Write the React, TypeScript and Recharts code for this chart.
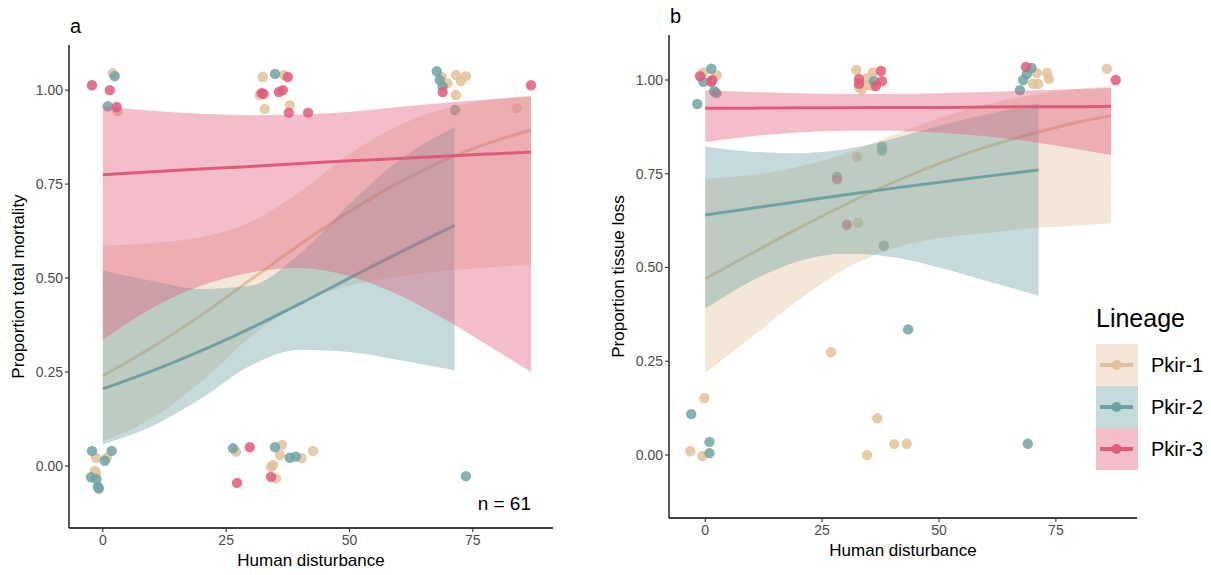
import React from "react";
import { ComposedChart, Scatter, Area, Line, XAxis, YAxis, Legend } from "recharts";

const FONT = "'Liberation Sans', Arial, sans-serif";

const LINEAGES = ["Pkir-1", "Pkir-2", "Pkir-3"];
const COLORS = ["#E3C29A", "#6FA3A3", "#E05A7A"];
const BAND_ALPHA = 0.4;

const X_TICKS = [0, 25, 50, 75];
const Y_TICKS = [0, 0.25, 0.5, 0.75, 1];

// ---- panel a : total mortality ----
const A_X_LONG = [0, 10, 20, 30, 40, 50, 60, 70, 80, 86.8];
const A_X_SHORT = [0, 10, 20, 30, 40, 50, 60, 71.3];

const A_FIT_1 = [0.24, 0.316, 0.402, 0.496, 0.59, 0.677, 0.754, 0.818, 0.867, 0.894];
const A_LO_1 = [0.066, 0.127, 0.225, 0.344, 0.433, 0.48, 0.505, 0.52, 0.53, 0.535];
const A_HI_1 = [0.586, 0.593, 0.609, 0.649, 0.73, 0.83, 0.906, 0.953, 0.977, 0.986];

const A_FIT_2 = [0.205, 0.253, 0.307, 0.367, 0.432, 0.5, 0.567, 0.64];
const A_LO_2 = [0.058, 0.106, 0.18, 0.267, 0.309, 0.303, 0.282, 0.255];
const A_HI_2 = [0.52, 0.492, 0.471, 0.48, 0.565, 0.697, 0.813, 0.902];

const A_FIT_3 = [0.775, 0.783, 0.79, 0.797, 0.805, 0.812, 0.818, 0.825, 0.831, 0.835];
const A_LO_3 = [0.335, 0.42, 0.48, 0.515, 0.527, 0.505, 0.455, 0.385, 0.305, 0.25];
const A_HI_3 = [0.957, 0.945, 0.937, 0.933, 0.935, 0.942, 0.955, 0.967, 0.977, 0.983];

const A_PTS_1 = [
  [2.0, 1.045], [3.0, 0.944],
  [32.4, 1.035], [36.7, 1.04], [31.8, 0.987], [32.8, 0.95], [37.9, 0.96],
  [68.7, 1.035], [69.9, 1.018], [71.6, 1.04], [73.6, 1.037], [72.6, 1.024], [71.6, 0.987], [83.9, 0.952],
  [-1.4, 0.022], [0.8, 0.022], [-1.6, -0.013], [-1.4, -0.02],
  [27.0, 0.038], [36.3, 0.056], [35.9, 0.029], [40.3, 0.021], [42.6, 0.04], [34.1, -0.002], [34.5, 0.003], [35.1, -0.033],
];
const A_PTS_2 = [
  [2.4, 1.037], [1.0, 0.957],
  [34.9, 1.043],
  [67.7, 1.05], [68.3, 1.027], [68.9, 1.01], [71.4, 0.947],
  [-2.2, 0.04], [0.4, 0.014], [1.8, 0.04], [-2.4, -0.03], [-1.3, -0.035], [-1.0, -0.055], [-0.8, -0.06],
  [26.4, 0.047], [34.9, 0.05], [37.9, 0.022], [39.1, 0.025],
  [73.6, -0.027],
];
const A_PTS_3 = [
  [-2.2, 1.013], [1.4, 1.0], [2.8, 0.955],
  [37.5, 1.035], [32.2, 0.992], [32.6, 0.99], [35.7, 0.995], [36.5, 1.0], [37.7, 0.94], [41.6, 0.94],
  [68.9, 0.995], [86.8, 1.013],
  [29.8, 0.05], [27.2, -0.045], [34.1, -0.029],
];

// ---- panel b : tissue loss ----
const B_X_LONG = [0, 10, 20, 30, 40, 50, 60, 70, 80, 86.8];
const B_X_SHORT = [0, 10, 20, 30, 40, 50, 60, 71.3];

const B_FIT_1 = [0.47, 0.538, 0.605, 0.668, 0.726, 0.777, 0.821, 0.857, 0.888, 0.905];
const B_LO_1 = [0.219, 0.315, 0.414, 0.497, 0.55, 0.578, 0.592, 0.605, 0.612, 0.618];
const B_HI_1 = [0.737, 0.747, 0.769, 0.804, 0.852, 0.898, 0.935, 0.96, 0.977, 0.984];

const B_FIT_2 = [0.64, 0.658, 0.676, 0.694, 0.711, 0.727, 0.743, 0.76];
const B_LO_2 = [0.39, 0.465, 0.517, 0.537, 0.528, 0.5, 0.465, 0.425];
const B_HI_2 = [0.822, 0.809, 0.805, 0.816, 0.843, 0.878, 0.908, 0.938];

const B_FIT_3 = [0.925, 0.925, 0.926, 0.926, 0.927, 0.927, 0.928, 0.929, 0.929, 0.93];
const B_LO_3 = [0.835, 0.85, 0.86, 0.865, 0.865, 0.86, 0.85, 0.835, 0.815, 0.8];
const B_HI_3 = [0.972, 0.968, 0.965, 0.963, 0.963, 0.965, 0.968, 0.972, 0.976, 0.979];

const B_PTS_1 = [
  [-0.4, 1.02], [2.5, 1.013],
  [32.3, 1.027], [32.9, 0.98], [34.6, 1.005], [35.9, 1.02], [35.7, 0.984], [34.6, 0.987], [33.5, 0.975],
  [70.9, 1.019], [73.1, 1.019], [73.5, 1.003], [70.1, 0.99], [71.2, 0.99], [85.9, 1.03],
  [32.5, 0.795], [32.7, 0.62],
  [26.9, 0.274], [-0.2, 0.152], [-3.2, 0.01], [-0.6, -0.003], [36.8, 0.098], [40.4, 0.029], [43.1, 0.03], [34.6, 0.0],
];
const B_PTS_2 = [
  [1.3, 1.03], [-0.4, 0.995], [1.9, 0.97], [2.4, 0.965], [-1.7, 0.936],
  [36.1, 0.997],
  [69.8, 1.032], [68.8, 1.016], [68.0, 1.0], [67.3, 0.973],
  [28.2, 0.742], [37.8, 0.822], [37.8, 0.812], [38.2, 0.558], [43.4, 0.335],
  [-3.0, 0.109], [0.9, 0.035], [0.9, 0.005], [69.0, 0.03],
];
const B_PTS_3 = [
  [-1.1, 1.01], [1.5, 1.0], [1.3, 0.995],
  [32.9, 1.003], [32.9, 0.99], [37.6, 1.024], [37.8, 0.997], [36.5, 0.984],
  [68.6, 1.035], [87.8, 1.0],
  [28.2, 0.735], [30.3, 0.614],
];

const fitRows = (xs: number[], fit: number[], lo: number[], hi: number[]) =>
  xs.map((x, i) => ({ x, fit: fit[i], band: [lo[i], hi[i]] }));
const pointRows = (pts: number[][]) => pts.map(([x, y]) => ({ x, y }));

const PANEL_A = {
  fits: [
    fitRows(A_X_LONG, A_FIT_1, A_LO_1, A_HI_1),
    fitRows(A_X_SHORT, A_FIT_2, A_LO_2, A_HI_2),
    fitRows(A_X_LONG, A_FIT_3, A_LO_3, A_HI_3),
  ],
  points: [pointRows(A_PTS_1), pointRows(A_PTS_2), pointRows(A_PTS_3)],
};
const PANEL_B = {
  fits: [
    fitRows(B_X_LONG, B_FIT_1, B_LO_1, B_HI_1),
    fitRows(B_X_SHORT, B_FIT_2, B_LO_2, B_HI_2),
    fitRows(B_X_LONG, B_FIT_3, B_LO_3, B_HI_3),
  ],
  points: [pointRows(B_PTS_1), pointRows(B_PTS_2), pointRows(B_PTS_3)],
};

const dotShape = (color: string) => (props: any) =>
  <circle cx={props.cx} cy={props.cy} r={5.2} fill={color} fillOpacity={0.85} />;

const LegendBox = () => (
  <svg width={125} height={175} style={{ fontFamily: FONT, overflow: "visible" }}>
    <text x={6} y={27} fontSize={25} fill="#000">Lineage</text>
    {LINEAGES.map((name, i) => (
      <g key={name}>
        <rect x={6} y={44 + i * 42} width={42} height={42} fill={COLORS[i]} fillOpacity={BAND_ALPHA} />
        <line x1={10} x2={43} y1={65 + i * 42} y2={65 + i * 42} stroke={COLORS[i]} strokeWidth={4} />
        <circle cx={26.5} cy={65 + i * 42} r={5} fill={COLORS[i]} />
        <text x={61} y={72 + i * 42} fontSize={20} fill="#000">{name}</text>
      </g>
    ))}
  </svg>
);

type PanelProps = {
  panel: { fits: any[]; points: any[] };
  width: number;
  top: number;
  right: number;
  xDomain: number[];
  yDomain: number[];
  yTitle: string;
  xTitleOffset: number;
  letter: string;
  note?: string;
  legend?: boolean;
};

function Panel({ panel, width, top, right, xDomain, yDomain, yTitle, xTitleOffset, letter, note, legend }: PanelProps) {
  return (
    <ComposedChart width={width} height={575} margin={{ top, right, bottom: 0, left: 0 }}>
      <XAxis
        type="number"
        dataKey="x"
        domain={xDomain}
        ticks={X_TICKS}
        interval={0}
        allowDataOverflow
        height={575 - (top + 483)}
        tickSize={4}
        tickMargin={3}
        axisLine={{ stroke: "#000", strokeWidth: 1.3 }}
        tickLine={{ stroke: "#333", strokeWidth: 1.1 }}
        tick={{ fill: "#4D4D4D", fontSize: 14, fontFamily: FONT }}
        label={{ value: "Human disturbance", position: "insideBottom", offset: xTitleOffset, fill: "#000", fontSize: 17, fontFamily: FONT }}
      />
      <YAxis
        type="number"
        dataKey="y"
        domain={yDomain}
        ticks={Y_TICKS}
        interval={0}
        allowDataOverflow
        width={69}
        tickSize={4}
        tickMargin={2}
        tickFormatter={(v: number) => v.toFixed(2)}
        axisLine={{ stroke: "#000", strokeWidth: 1.3 }}
        tickLine={{ stroke: "#333", strokeWidth: 1.1 }}
        tick={{ fill: "#4D4D4D", fontSize: 14, fontFamily: FONT }}
        label={{ value: yTitle, angle: -90, position: "center", dx: -17, fill: "#000", fontSize: 17, fontFamily: FONT }}
      />
      {panel.points.map((pts, i) => (
        <Scatter key={"p" + i} data={pts} shape={dotShape(COLORS[i])} isAnimationActive={false} zIndex={50} />
      ))}
      {panel.fits.flatMap((rows, i) => [
        <Area
          key={"a" + i}
          data={rows}
          dataKey="band"
          type="monotone"
          fill={COLORS[i]}
          fillOpacity={BAND_ALPHA}
          stroke="none"
          dot={false}
          activeDot={false}
          isAnimationActive={false}
          zIndex={100 + i * 2}
        />,
        <Line
          key={"l" + i}
          data={rows}
          dataKey="fit"
          type="monotone"
          stroke={COLORS[i]}
          strokeWidth={3}
          dot={false}
          activeDot={false}
          isAnimationActive={false}
          zIndex={101 + i * 2}
        />,
      ])}
      <text x={70} y={top - 12} fontSize={20} fontFamily={FONT} fill="#000">{letter}</text>
      {note && (
        <text x={531} y={510} fontSize={19} fontFamily={FONT} fill="#000" textAnchor="end">{note}</text>
      )}
      {legend && (
        <Legend
          layout="vertical"
          align="center"
          verticalAlign="middle"
          wrapperStyle={{ left: 490, top: 300, width: 125, height: 175 }}
          content={() => <LegendBox />}
        />
      )}
    </ComposedChart>
  );
}

export default function App() {
  return (
    <div style={{ position: "absolute", left: 0, top: 0, width: 1211, height: 575, background: "#fff", fontFamily: FONT }}>
      <div style={{ position: "absolute", left: 0, top: 0 }}>
        <Panel
          panel={PANEL_A}
          width={570}
          top={45}
          right={17}
          xDomain={[-6.86, 91.26]}
          yDomain={[-0.165, 1.12]}
          yTitle="Proportion total mortality"
          xTitleOffset={9}
          letter="a"
          note="n = 61"
        />
      </div>
      <div style={{ position: "absolute", left: 600, top: 0 }}>
        <Panel
          panel={PANEL_B}
          width={611}
          top={35}
          right={74}
          xDomain={[-7.75, 92.35]}
          yDomain={[-0.168, 1.12]}
          yTitle="Proportion tissue loss"
          xTitleOffset={19}
          letter="b"
          legend
        />
      </div>
    </div>
  );
}
